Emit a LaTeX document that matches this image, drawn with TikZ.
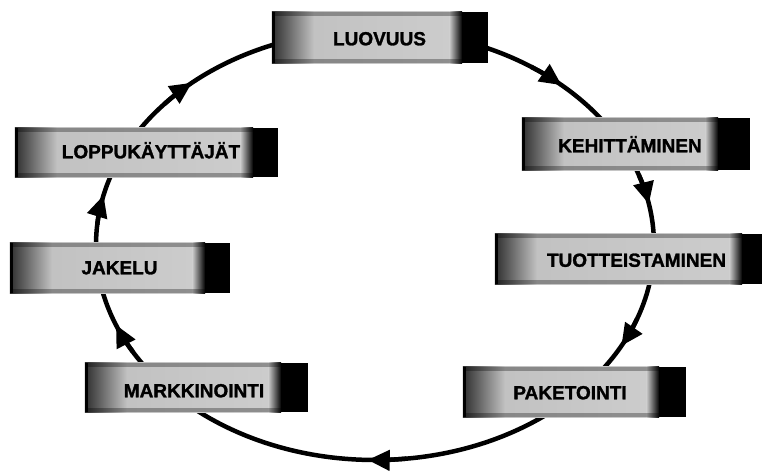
\documentclass[tikz,border=0pt]{standalone}
\usepackage{fontspec}
\setmainfont{Liberation Sans}
\newfontfamily\stagefont{Liberation Sans Bold}[FakeBold=1.4]
\usetikzlibrary{arrows.meta}

\tikzset{
  stage/.style={fill=black!22, inner sep=0pt, minimum height=50pt},
  rimshade/.style={left color=black!82, right color=black!24},
  bodyshade/.style={left color=black!24, middle color=black!5, right color=black!20},
  edgeshade/.style={left color=black!20, right color=black},
  rimline/.style={fill=black, fill opacity=0.3},
  stagetext/.style={font=\stagefont\fontsize{19}{19}\selectfont,
    text height=13.6pt, text depth=0pt, inner sep=0pt},
  ring/.style={line width=4.5pt},
  flow/.style={line width=4.5pt, -{Triangle[length=22pt,width=20pt]}}
}

\begin{document}
\begin{tikzpicture}[x=1pt,y=1pt]
\useasboundingbox (0,0) rectangle (765,473);

% the cycle
\coordinate (ringc) at (375,228);
\draw[ring] (ringc) ellipse [x radius=279pt, y radius=215pt];

% direction marks along the cycle (clockwise)
\foreach \t in {48,11,-28,-91.5,201.8,166.6,131}{
  \draw[flow] (ringc) ++(\t+8:279pt and 215pt)
    arc[start angle=\t+8, end angle=\t, x radius=279pt, y radius=215pt];
}

% stages
\node[stage, minimum width=216pt, minimum height=51pt] (luovuus) at (380,435.5) {};
\node[stage, minimum width=228pt, minimum height=52pt] (kehitt) at (636,329) {};
\node[stage, minimum width=267pt] (tuott) at (628.5,214) {};
\node[stage, minimum width=223pt] (paket) at (574.5,81) {};
\node[stage, minimum width=223pt, minimum height=49pt] (markk) at (196.5,85.5) {};
\node[stage, minimum width=220pt] (jakelu) at (120,205) {};
\node[stage, minimum width=263pt, minimum height=49pt] (loppu) at (146.5,320.5) {};

% bar rendering: dark left rim, light body, black band on the right
\foreach \n/\b in {luovuus/26pt, kehitt/32pt, tuott/20pt, paket/27pt,
                   markk/27pt, jakelu/25pt, loppu/25pt}{
  \shade[rimshade] (\n.south west) rectangle ([xshift=42pt]\n.north west);
  \shade[bodyshade] ([xshift=42pt]\n.south west) rectangle ([xshift=-\b-13pt]\n.north east);
  \shade[edgeshade] ([xshift=-\b-13pt]\n.south east) rectangle ([xshift=-\b]\n.north east);
  \fill[black] ([xshift=-\b]\n.north east) rectangle (\n.south east);
  \fill[black] (\n.south west) rectangle ([xshift=3pt]\n.north west);
  \path[rimline] (\n.north west) rectangle ([yshift=-4pt]\n.north east);
  \path[rimline] (\n.south west) rectangle ([yshift=4pt]\n.south east);
}

\node[stagetext] (tluovuus) at (379.5,434.5) {LUOVUUS};
\node[stagetext] (tkehitt) at (630,327.5) {KEHITTÄMINEN};
\node[stagetext] (ttuott) at (636.5,213) {TUOTTEISTAMINEN};
\node[stagetext] (tpaket) at (570,80.5) {PAKETOINTI};
\node[stagetext] (tmarkk) at (194,82.5) {MARKKINOINTI};
\node[stagetext] (tjakelu) at (119.5,205.5) {JAKELU};
\node[stagetext] (tloppu) at (151,321.5) {LOPPUKÄYTTÄJÄT};
\end{tikzpicture}
\end{document}
